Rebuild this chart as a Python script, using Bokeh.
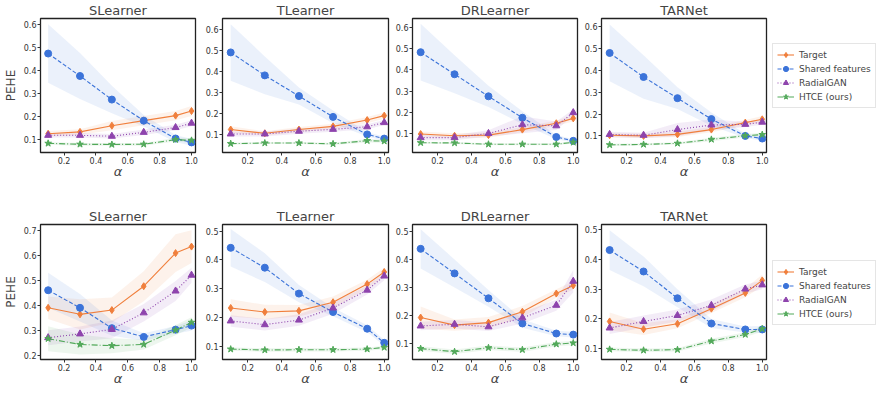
from bokeh.plotting import figure
from bokeh.layouts import column, row
from bokeh.models import Range1d, FixedTicker, Legend, LegendItem
from bokeh.embed import file_html
from bokeh.resources import INLINE

alpha = [0.1, 0.3, 0.5, 0.7, 0.9, 1.0]
x_ticks = [0.2, 0.4, 0.6, 0.8, 1.0]
x_tick_labels = ["0.2", "0.4", "0.6", "0.8", "1.0"]
series_names = ["Target", "Shared features", "RadialGAN", "HTCE (ours)"]
learners = ["SLearner", "TLearner", "DRLearner", "TARNet"]

# ---- Row 1 ----
r1_s_target = [0.125, 0.133, 0.160, 0.182, 0.204, 0.224]
r1_s_shared = [0.475, 0.377, 0.274, 0.182, 0.104, 0.087]
r1_s_radial = [0.118, 0.118, 0.114, 0.131, 0.152, 0.171]
r1_s_htce = [0.083, 0.079, 0.078, 0.079, 0.099, 0.096]
r1_s_target_err = [0.012, 0.012, 0.02, 0.02, 0.02, 0.022]
r1_s_shared_err = [0.128, 0.10, 0.06, 0.025, 0.015, 0.015]
r1_s_radial_err = [0.01, 0.01, 0.01, 0.012, 0.012, 0.013]
r1_s_htce_err = [0.006, 0.006, 0.006, 0.006, 0.008, 0.01]

r1_t_target = [0.123, 0.105, 0.123, 0.138, 0.168, 0.189]
r1_t_shared = [0.489, 0.380, 0.282, 0.183, 0.100, 0.080]
r1_t_radial = [0.102, 0.102, 0.115, 0.124, 0.136, 0.156]
r1_t_htce = [0.056, 0.059, 0.059, 0.055, 0.070, 0.068]
r1_t_target_err = [0.015, 0.01, 0.012, 0.012, 0.015, 0.015]
r1_t_shared_err = [0.134, 0.09, 0.04, 0.03, 0.01, 0.01]
r1_t_radial_err = [0.012, 0.012, 0.012, 0.012, 0.012, 0.012]
r1_t_htce_err = [0.005, 0.005, 0.005, 0.005, 0.008, 0.008]

r1_d_target = [0.097, 0.089, 0.092, 0.118, 0.148, 0.171]
r1_d_shared = [0.483, 0.379, 0.275, 0.174, 0.083, 0.065]
r1_d_radial = [0.080, 0.080, 0.100, 0.141, 0.136, 0.198]
r1_d_htce = [0.056, 0.055, 0.049, 0.049, 0.049, 0.058]
r1_d_target_err = [0.012, 0.012, 0.012, 0.012, 0.012, 0.015]
r1_d_shared_err = [0.134, 0.09, 0.05, 0.03, 0.01, 0.008]
r1_d_radial_err = [0.012, 0.012, 0.015, 0.04, 0.02, 0.015]
r1_d_htce_err = [0.005, 0.005, 0.005, 0.005, 0.005, 0.005]

r1_n_target = [0.103, 0.100, 0.107, 0.129, 0.161, 0.176]
r1_n_shared = [0.480, 0.370, 0.273, 0.177, 0.100, 0.088]
r1_n_radial = [0.107, 0.103, 0.129, 0.150, 0.153, 0.163]
r1_n_htce = [0.059, 0.061, 0.066, 0.084, 0.101, 0.106]
r1_n_target_err = [0.01, 0.01, 0.012, 0.012, 0.012, 0.015]
r1_n_shared_err = [0.13, 0.10, 0.05, 0.03, 0.01, 0.01]
r1_n_radial_err = [0.012, 0.012, 0.03, 0.025, 0.012, 0.012]
r1_n_htce_err = [0.005, 0.005, 0.005, 0.008, 0.008, 0.008]

# ---- Row 2 ----
r2_s_target = [0.391, 0.365, 0.382, 0.477, 0.609, 0.635]
r2_s_shared = [0.461, 0.391, 0.310, 0.275, 0.304, 0.320]
r2_s_radial = [0.272, 0.287, 0.305, 0.371, 0.458, 0.521]
r2_s_htce = [0.268, 0.245, 0.240, 0.245, 0.302, 0.333]
r2_s_target_err = [0.045, 0.06, 0.05, 0.06, 0.075, 0.065]
r2_s_shared_err = [0.07, 0.055, 0.03, 0.015, 0.015, 0.02]
r2_s_radial_err = [0.03, 0.03, 0.035, 0.035, 0.04, 0.03]
r2_s_htce_err = [0.05, 0.04, 0.03, 0.02, 0.02, 0.02]

r2_t_target = [0.233, 0.219, 0.223, 0.253, 0.316, 0.358]
r2_t_shared = [0.442, 0.373, 0.283, 0.219, 0.161, 0.112]
r2_t_radial = [0.188, 0.175, 0.191, 0.233, 0.295, 0.344]
r2_t_htce = [0.090, 0.087, 0.088, 0.088, 0.090, 0.096]
r2_t_target_err = [0.03, 0.025, 0.02, 0.02, 0.015, 0.015]
r2_t_shared_err = [0.065, 0.05, 0.03, 0.015, 0.012, 0.01]
r2_t_radial_err = [0.02, 0.02, 0.02, 0.02, 0.015, 0.015]
r2_t_htce_err = [0.006, 0.006, 0.006, 0.006, 0.006, 0.006]

r2_d_target = [0.193, 0.166, 0.175, 0.214, 0.279, 0.308]
r2_d_shared = [0.439, 0.351, 0.262, 0.172, 0.136, 0.132]
r2_d_radial = [0.163, 0.169, 0.160, 0.192, 0.237, 0.323]
r2_d_htce = [0.082, 0.071, 0.085, 0.078, 0.098, 0.102]
r2_d_target_err = [0.04, 0.02, 0.02, 0.02, 0.015, 0.015]
r2_d_shared_err = [0.07, 0.05, 0.03, 0.015, 0.01, 0.01]
r2_d_radial_err = [0.015, 0.015, 0.015, 0.02, 0.02, 0.04]
r2_d_htce_err = [0.008, 0.008, 0.008, 0.008, 0.008, 0.008]

r2_n_target = [0.191, 0.165, 0.183, 0.234, 0.287, 0.329]
r2_n_shared = [0.431, 0.359, 0.269, 0.184, 0.164, 0.164]
r2_n_radial = [0.169, 0.191, 0.211, 0.245, 0.300, 0.314]
r2_n_htce = [0.097, 0.094, 0.096, 0.125, 0.147, 0.166]
r2_n_target_err = [0.03, 0.02, 0.015, 0.015, 0.015, 0.02]
r2_n_shared_err = [0.067, 0.05, 0.03, 0.015, 0.01, 0.012]
r2_n_radial_err = [0.02, 0.02, 0.02, 0.02, 0.015, 0.015]
r2_n_htce_err = [0.006, 0.006, 0.006, 0.008, 0.008, 0.01]

r1_y_ranges = [(0.043, 0.628), (0.014, 0.65), (0.01, 0.642), (0.024, 0.638)]
r2_y_ranges = [(0.185, 0.723), (0.054, 0.523), (0.043, 0.526), (0.063, 0.517)]
r1_y_ticks = [[0.1, 0.2, 0.3, 0.4, 0.5, 0.6]] * 4
r2_y_ticks = [[0.2, 0.3, 0.4, 0.5, 0.6, 0.7], [0.1, 0.2, 0.3, 0.4, 0.5],
              [0.1, 0.2, 0.3, 0.4, 0.5], [0.1, 0.2, 0.3, 0.4, 0.5]]

row1_data = [
    [(r1_s_target, r1_s_target_err), (r1_s_shared, r1_s_shared_err), (r1_s_radial, r1_s_radial_err), (r1_s_htce, r1_s_htce_err)],
    [(r1_t_target, r1_t_target_err), (r1_t_shared, r1_t_shared_err), (r1_t_radial, r1_t_radial_err), (r1_t_htce, r1_t_htce_err)],
    [(r1_d_target, r1_d_target_err), (r1_d_shared, r1_d_shared_err), (r1_d_radial, r1_d_radial_err), (r1_d_htce, r1_d_htce_err)],
    [(r1_n_target, r1_n_target_err), (r1_n_shared, r1_n_shared_err), (r1_n_radial, r1_n_radial_err), (r1_n_htce, r1_n_htce_err)],
]
row2_data = [
    [(r2_s_target, r2_s_target_err), (r2_s_shared, r2_s_shared_err), (r2_s_radial, r2_s_radial_err), (r2_s_htce, r2_s_htce_err)],
    [(r2_t_target, r2_t_target_err), (r2_t_shared, r2_t_shared_err), (r2_t_radial, r2_t_radial_err), (r2_t_htce, r2_t_htce_err)],
    [(r2_d_target, r2_d_target_err), (r2_d_shared, r2_d_shared_err), (r2_d_radial, r2_d_radial_err), (r2_d_htce, r2_d_htce_err)],
    [(r2_n_target, r2_n_target_err), (r2_n_shared, r2_n_shared_err), (r2_n_radial, r2_n_radial_err), (r2_n_htce, r2_n_htce_err)],
]

colors = ["#f07f3c", "#3b73d9", "#8e44ad", "#52a95a"]
dashes = ["solid", "4 2", "1 2", "6 2 1 2"]
markers = ["diamond", "circle", "triangle", "star"]
msizes = [7, 7, 7, 7]

FONT = "DejaVu Sans"
col_widths = [202, 190, 189, 189]
col_left = [33, 19, 18, 18]
col_right = [7, 4, 4, 4]
ROW1_H, ROW2_H = 196, 192
LEG_W = 107


def make_panel(ci, title, yr, yt, data, height, top, bottom):
    p = figure(width=col_widths[ci], height=height, output_backend="svg",
               toolbar_location=None, x_range=Range1d(0.052, 1.025),
               y_range=Range1d(*yr), min_border_left=col_left[ci],
               min_border_right=col_right[ci], min_border_top=top,
               min_border_bottom=bottom)
    p.title.text = title
    p.title.align = "center"
    p.title.text_font = FONT
    p.title.text_font_size = "13px"
    p.title.text_font_style = "normal"
    p.title.standoff = 1
    p.xgrid.visible = False
    p.ygrid.visible = False
    p.outline_line_color = "#222222"
    p.outline_line_width = 1.3
    p.background_fill_color = "white"
    p.border_fill_color = "white"
    for ax in (p.xaxis[0], p.yaxis[0]):
        ax.axis_line_color = None
        ax.minor_tick_line_color = None
        ax.major_tick_out = 3
        ax.major_tick_in = 0
        ax.major_tick_line_color = "#333333"
        ax.major_label_text_font = FONT
        ax.major_label_text_font_size = "8px"
        ax.major_label_text_color = "#333333"
        ax.major_label_standoff = 1
    p.xaxis.ticker = FixedTicker(ticks=x_ticks)
    p.xaxis.major_label_overrides = dict(zip(x_ticks, x_tick_labels))
    p.yaxis.ticker = FixedTicker(ticks=yt)
    p.yaxis.major_label_overrides = {t: f"{t:.1f}" for t in yt}
    p.xaxis.axis_label = "α"
    p.xaxis.axis_label_text_font = FONT
    p.xaxis.axis_label_text_font_style = "italic"
    p.xaxis.axis_label_text_font_size = "13px"
    p.xaxis.axis_label_standoff = -3
    if ci == 0:
        p.yaxis.axis_label = "PEHE"
        p.yaxis.axis_label_text_font = FONT
        p.yaxis.axis_label_text_font_style = "normal"
        p.yaxis.axis_label_text_font_size = "12px"
        p.yaxis.axis_label_standoff = 3

    for si, (vals, err) in enumerate(data):
        lo = [v - e for v, e in zip(vals, err)]
        hi = [v + e for v, e in zip(vals, err)]
        p.varea(x=alpha, y1=lo, y2=hi, fill_color=colors[si], fill_alpha=0.1)
    for si, (vals, err) in enumerate(data):
        p.line(alpha, vals, line_color=colors[si], line_width=1.1,
               line_dash=dashes[si])
        p.scatter(alpha, vals, marker=markers[si], size=msizes[si],
                  fill_color=colors[si], line_color=colors[si])
    return p


def make_legend_fig(height, bottom_offset):
    p = figure(width=LEG_W, height=height, output_backend="svg",
               toolbar_location=None, x_range=Range1d(0, 1),
               y_range=Range1d(0, 1), x_axis_type=None, y_axis_type=None,
               min_border=0, min_border_left=0, min_border_right=0,
               min_border_top=0, min_border_bottom=0)
    p.outline_line_color = None
    p.xgrid.visible = False
    p.ygrid.visible = False
    items = []
    for si in range(4):
        # legend-only renderers: their points lie outside the ranges
        ln = p.line([-5, -4], [-5, -5], line_color=colors[si], line_width=1.1,
                    line_dash=dashes[si])
        sc = p.scatter([-5], [-5], marker=markers[si], size=msizes[si],
                       fill_color=colors[si], line_color=colors[si])
        items.append(LegendItem(label=series_names[si], renderers=[ln, sc]))
    lg = Legend(items=items, location=(2, bottom_offset))
    lg.label_text_font = FONT
    lg.label_text_font_size = "9px"
    lg.label_height = 13
    lg.glyph_height = 13
    lg.glyph_width = 17
    lg.label_standoff = 5
    lg.padding = 4
    lg.spacing = 1
    lg.margin = 0
    lg.border_line_color = "#cccccc"
    lg.border_line_width = 1
    lg.background_fill_alpha = 1.0
    p.add_layout(lg)
    return p


row1 = []
row2 = []
for ci in range(4):
    row1.append(make_panel(ci, learners[ci], r1_y_ranges[ci], r1_y_ticks[ci],
                           row1_data[ci], ROW1_H, 15, 44))
    row2.append(make_panel(ci, learners[ci], r2_y_ranges[ci], r2_y_ticks[ci],
                           row2_data[ci], ROW2_H, 28, 20))
row1.append(make_legend_fig(ROW1_H, 44))
row2.append(make_legend_fig(ROW2_H, 34))

layout = column(row(*row1), row(*row2))
open("out.html", "w").write(file_html(layout, INLINE))
